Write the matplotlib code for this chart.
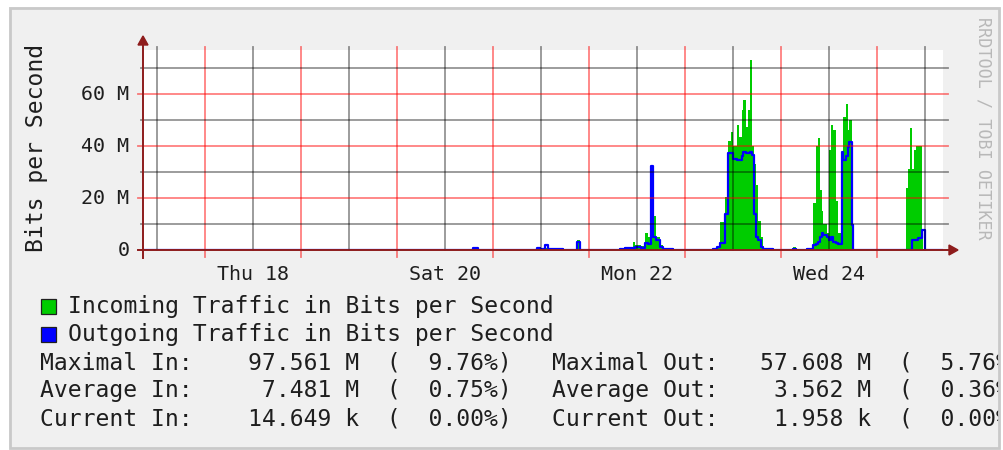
import matplotlib
matplotlib.use("Agg")
import matplotlib.pyplot as plt
from matplotlib.patches import Rectangle, Polygon
from matplotlib.transforms import blended_transform_factory

# ---------------- data (hours since Wed 17 00:00, values in Mbit/s) ----------------
t_hours = [8.75, 90, 91, 92.25, 107, 107.75, 109, 109.75, 111.5, 113.5,
           117, 117.75, 127.75, 129, 131, 131.5, 133, 134, 134.75, 135.5,
           136, 136.75, 137.75, 138.5, 141, 151, 152, 152.75, 154, 154.75,
           155.5, 156, 157, 157.5, 158.25, 158.5, 159.25, 159.75, 160.25, 160.75,
           161.25, 161.75, 162.25, 163, 163.5, 166, 171, 171.75, 174.5, 176,
           176.75, 177.25, 177.75, 178.25, 178.5, 179.5, 180, 180.5, 181, 181.75,
           182.25, 183.25, 183.5, 184.25, 184.75, 185, 185.75, 186, 199.25, 199.75,
           200.25, 200.75, 201.25, 201.75, 202.25, 203.25, 203.5, 204, 208.5]
in_mbps = [0, 0.3, 0.4, 0.3, 0.4, 0.3, 0.8, 0.6, 0.5, 0.3,
           3.8, 0.3, 0.5, 0.8, 3.2, 1.9, 1.5, 6.7, 5.1, 8.0,
           13.1, 5.0, 2.0, 0.4, 0.3, 0.6, 1.3, 10.9, 20.5, 42,
           45.5, 40, 48, 43.6, 54, 57.7, 47.4, 53.8, 73, 40,
           33, 25, 11, 5, 0.5, 0.3, 1.3, 0.3, 0.6, 18,
           40, 43, 23, 15, 10, 6.4, 38.5, 48, 46, 19,
           6.4, 37, 51, 56, 46, 50, 9.6, 0.3, 24, 31,
           47, 31, 38.5, 40, 40, 7.7, 0.2, 0.2, 0.2]
out_mbps = [0, 0.1, 0.6, 0.1, 0.6, 0.2, 1.9, 0.3, 0.2, 0.1,
            3.2, 0.1, 0.4, 0.6, 0.6, 1.0, 0.8, 2.6, 2.3, 32.3,
            5.1, 3.8, 1.3, 0.5, 0.1, 0.5, 1.0, 2.6, 14, 37.2,
            37.2, 35, 34.6, 34.6, 36, 37.8, 37.5, 37.5, 37.8, 36.5,
            14, 5, 3.8, 1.3, 0.3, 0.1, 0.2, 0.1, 0.5, 2,
            2.3, 3.2, 5, 6.7, 5.8, 5, 3.8, 5, 3.2, 2.6,
            2.3, 37.8, 34.6, 36, 39.7, 41.7, 9.6, 0.1, 0.1, 0.1,
            0.1, 3.8, 3.8, 3.8, 4.5, 7.7, 7.7, 0.1, 0.1]

y_tick_values = [0, 20, 40, 60]
y_tick_labels = ["0", "20 M", "40 M", "60 M"]
x_label_hours = [36, 84, 132, 180]
x_labels = ["Thu 18", "Sat 20", "Mon 22", "Wed 24"]

legend_labels = ["Incoming Traffic in Bits per Second",
                 "Outgoing Traffic in Bits per Second"]
legend_colors = ["#00cc00", "#0000ff"]

stat_names_in = ["Maximal In:", "Average In:", "Current In:"]
stat_vals_in = [97.561, 7.481, 14.649]
stat_units_in = ["M", "M", "k"]
stat_pct_in = [9.76, 0.75, 0.00]
stat_names_out = ["Maximal Out:", "Average Out:", "Current Out:"]
stat_vals_out = [57.608, 3.562, 1.958]
stat_units_out = ["M", "M", "k"]
stat_pct_out = [5.76, 0.36, 0.00]

# ---------------- layout helpers ----------------
W, H = 1004, 450
def fx(x):
    return x / W
def fy(y):
    return 1 - y / H

MONO = "DejaVu Sans Mono"
TXT = "#1e1e1e"
AXIS_C = "#8e1c1c"
BIG = 16.6

fig = plt.figure(figsize=(W / 100, H / 100), dpi=100)
fig.patch.set_facecolor("white")

# panel background
fig.add_artist(Rectangle((fx(9), fy(448)), fx(1000) - fx(9), fy(7) - fy(448),
                         transform=fig.transFigure, facecolor="#f0f0f0",
                         edgecolor="none", zorder=-5))

ax_l, ax_r, ax_t, ax_b = 144, 943, 50, 250
ax = fig.add_axes([fx(ax_l), fy(ax_b), (ax_r - ax_l) / W, (ax_b - ax_t) / H])
xmin, xmax = 8.75, 208.5
ymax = (ax_b - ax_t) / 2.6
ax.set_xlim(xmin, xmax)
ax.set_ylim(0, ymax)
ax.set_facecolor("white")
for s in ax.spines.values():
    s.set_visible(False)
ax.set_xticks([])
ax.set_yticks([])

# data
ax.fill_between(t_hours, in_mbps, step="post", color="#00cc00", linewidth=0, zorder=2)
ax.step(t_hours, out_mbps, where="post", color="#0000ff", linewidth=1.6, zorder=3)

# grid
px_w = ax_r - ax_l
px_h = ax_b - ax_t
tr_v = blended_transform_factory(ax.transData, ax.transAxes)
tr_h = blended_transform_factory(ax.transAxes, ax.transData)
for h in range(12, 205, 12):
    major = (h % 24 == 0)
    y0 = -(257 - ax_b) / px_h if major else 0
    y1 = (ax_b - 47) / px_h
    ax.plot([h, h], [y0, y1], transform=tr_v, clip_on=False,
            color="#ff0000" if major else "#000000",
            alpha=0.5 if major else 0.42, linewidth=1.3, zorder=4)
for v in range(10, 71, 10):
    major = (v % 20 == 0)
    x0 = (138 - ax_l) / px_w if major else (141 - ax_l) / px_w
    x1 = (948 - ax_l) / px_w
    ax.plot([x0, x1], [v, v], transform=tr_h, clip_on=False,
            color="#ff0000" if major else "#000000",
            alpha=0.5 if major else 0.42, linewidth=1.3, zorder=4)

# axes lines + arrows (figure pixel coordinates)
fig.add_artist(plt.Line2D([fx(138), fx(950)], [fy(250), fy(250)],
                          transform=fig.transFigure, color=AXIS_C, linewidth=1.4, zorder=5))
fig.add_artist(plt.Line2D([fx(143), fx(143)], [fy(258), fy(45)],
                          transform=fig.transFigure, color=AXIS_C, linewidth=1.4, zorder=5))
fig.add_artist(Polygon([(fx(958), fy(250)), (fx(949), fy(245)), (fx(949), fy(255))],
                       closed=True, transform=fig.transFigure, color=AXIS_C, zorder=5))
fig.add_artist(Polygon([(fx(143), fy(36)), (fx(138), fy(45)), (fx(148), fy(45))],
                       closed=True, transform=fig.transFigure, color=AXIS_C, zorder=5))

# tick labels
for v, lab in zip(y_tick_values, y_tick_labels):
    ypx = ax_b - v * 2.6
    fig.text(fx(129.5), fy(ypx + 6), lab, ha="right", va="baseline",
             family=MONO, size=14.4, color=TXT)
for h, lab in zip(x_label_hours, x_labels):
    xpx = 109 + 4 * h
    fig.text(fx(xpx), fy(280), lab, ha="center", va="baseline",
             family=MONO, size=14.4, color=TXT)

# axis title
fig.text(fx(37), fy(148), "Bits per Second", rotation=90, ha="center", va="center",
         family=MONO, size=BIG, color=TXT)

# watermark
fig.text(fx(984), fy(128), "RRDTOOL / TOBI OETIKER", rotation=270, ha="center",
         va="center", family=MONO, size=12.1, color="#b8b8b8")

# legend
for i, (lab, col) in enumerate(zip(legend_labels, legend_colors)):
    base = 313 + 28 * i
    fig.add_artist(Rectangle((fx(41), fy(base + 1)), fx(56) - fx(41), fy(299) - fy(314),
                             transform=fig.transFigure, facecolor=col,
                             edgecolor="#202020", linewidth=0.9, zorder=5))
    fig.text(fx(67.8), fy(base), lab, ha="left", va="baseline",
             family=MONO, size=BIG, color=TXT)

# statistics
def fmt(name, val, unit, pct):
    return f"{name:<14}{val:7.3f} {unit}  ({pct:6.2f}%)"

for i in range(3):
    base = 369 + 28 * i
    fig.text(fx(40), fy(base), fmt(stat_names_in[i], stat_vals_in[i], stat_units_in[i],
                                   stat_pct_in[i]),
             ha="left", va="baseline", family=MONO, size=BIG, color=TXT)
    fig.text(fx(552.3), fy(base), fmt(stat_names_out[i], stat_vals_out[i],
                                      stat_units_out[i], stat_pct_out[i]),
             ha="left", va="baseline", family=MONO, size=BIG, color=TXT)

# outer frame (drawn on top; clips the overflowing text on the right, as in the reference)
fig.add_artist(Rectangle((fx(1000.5), 0), 1 - fx(1000.5), 1, transform=fig.transFigure,
                         facecolor="white", edgecolor="none", zorder=9))
fig.add_artist(Rectangle((fx(9.5), fy(448)), fx(999.5) - fx(9.5), fy(7.5) - fy(448),
                         transform=fig.transFigure, facecolor="none",
                         edgecolor="#c9c9c9", linewidth=2.0, zorder=10))

fig.savefig("out.png", dpi=100, facecolor=fig.get_facecolor())
